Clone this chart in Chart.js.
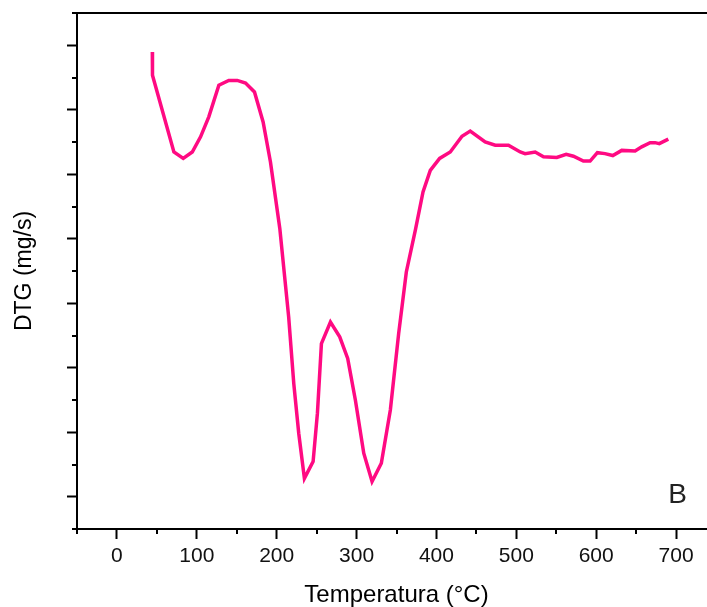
<!DOCTYPE html>
<html>
<head>
<meta charset="utf-8">
<script src="https://cdn.jsdelivr.net/npm/chart.js@4.4.1/dist/chart.umd.min.js"></script>
<style>
  html, body { margin: 0; padding: 0; background: #fff; overflow: hidden; width: 707px; height: 607px; }
  #wrap { width: 730px; height: 607px; }
</style>
</head>
<body>
<div id="wrap"><canvas id="c" width="730" height="607"></canvas></div>
<script>
// Temperature (°C)
const temps = [44.3, 44.5, 71.3, 83, 94.3, 104.7, 115, 127.6, 140, 150.6, 161, 172.2, 183, 192.2, 203.9,
  215, 221.4, 227.6, 234.7, 245.6, 251, 256, 267.3, 278.9, 288.9, 298.5, 309, 319.4, 331, 342.3,
  352.7, 362.3, 373.6, 383.2, 392.3, 404, 417.3, 432, 442.3, 461, 473.6, 490.2, 504.9, 511, 523.6,
  534, 550.7, 562.4, 571.5, 584, 592.4, 601.5, 611, 620.8, 632, 648.7, 657, 667.5, 673.7, 679, 690.3];
// DTG (arbitrary units, axis has no numeric labels)
const dtg = [14.79, 14.07, 11.69, 11.49, 11.69, 12.16, 12.78, 13.76, 13.91, 13.91, 13.83, 13.55, 12.62, 11.38, 9.32,
  6.58, 4.51, 2.97, 1.57, 2.09, 3.59, 5.75, 6.42, 5.96, 5.29, 4.0, 2.35, 1.47, 2.04, 3.69,
  6.06, 7.97, 9.27, 10.45, 11.12, 11.49, 11.69, 12.18, 12.34, 12.0, 11.9, 11.9, 11.69, 11.64, 11.69,
  11.54, 11.52, 11.62, 11.56, 11.41, 11.41, 11.67, 11.64, 11.58, 11.74, 11.72, 11.85, 11.98, 11.98, 11.95, 12.09];
const xTickLabels = ['0', '100', '200', '300', '400', '500', '600', '700'];
const panelLabel = 'B';

const points = temps.map((t, i) => ({ x: t, y: dtg[i] }));

const isMajorX = v => Math.abs(v % 100) < 1e-6;
const isMajorY = v => Math.abs(v % 2) === 1;

const minorTicks = {
  id: 'minorTicks',
  afterDraw(chart) {
    const { ctx, chartArea } = chart;
    const xs = chart.scales.x, ys = chart.scales.y;
    ctx.save();
    ctx.strokeStyle = '#000';
    ctx.lineWidth = 2;
    ctx.beginPath();
    xs.ticks.forEach(t => {
      if (!isMajorX(t.value)) {
        const px = Math.round(xs.getPixelForValue(t.value));
        ctx.moveTo(px, chartArea.bottom);
        ctx.lineTo(px, chartArea.bottom + 5);
      }
    });
    ys.ticks.forEach(t => {
      if (!isMajorY(t.value)) {
        const py = Math.round(ys.getPixelForValue(t.value));
        ctx.moveTo(chartArea.left - 5, py);
        ctx.lineTo(chartArea.left, py);
      }
    });
    ctx.stroke();
    // panel label
    ctx.fillStyle = '#222';
    ctx.font = '28px "Liberation Sans", Arial, sans-serif';
    ctx.textAlign = 'center';
    ctx.textBaseline = 'middle';
    ctx.fillText(panelLabel, xs.getPixelForValue(702), ys.getPixelForValue(1.05));
    ctx.restore();
  }
};

new Chart(document.getElementById('c'), {
  type: 'line',
  data: {
    datasets: [{
      data: points,
      borderColor: '#ff0a82',
      borderWidth: 3.5,
      pointRadius: 0,
      tension: 0,
      fill: false
    }]
  },
  options: {
    responsive: false,
    animation: false,
    devicePixelRatio: 1,
    layout: { padding: { left: 0, right: 14, top: 0, bottom: 0 } },
    plugins: { legend: { display: false }, tooltip: { enabled: false } },
    scales: {
      x: {
        type: 'linear',
        position: 'bottom',
        min: -50,
        max: 750,
        afterFit: s => { s.height = 78; },
        ticks: {
          stepSize: 50,
          autoSkip: false,
          maxRotation: 0,
          padding: 5,
          color: '#111',
          font: { family: '"Liberation Sans", Arial, sans-serif', size: 21 },
          callback: v => isMajorX(v) && v >= 0 && v <= 700 ? xTickLabels[v / 100] : ''
        },
        grid: {
          drawOnChartArea: false,
          drawTicks: true,
          tickLength: 10,
          tickWidth: 2,
          tickColor: c => isMajorX(c.tick.value) ? '#000' : 'rgba(0,0,0,0)'
        },
        border: { display: true, color: '#000', width: 2 },
        title: {
          display: true,
          text: 'Temperatura (°C)',
          color: '#000',
          font: { family: '"Liberation Sans", Arial, sans-serif', size: 24, lineHeight: 1 },
          padding: { top: 0, bottom: 0 }
        }
      },
      x2: {
        type: 'linear',
        position: 'top',
        min: -50,
        max: 750,
        afterFit: s => { s.height = 13; },
        ticks: { display: false },
        grid: { display: false, drawTicks: false },
        border: { display: true, color: '#000', width: 2 }
      },
      y: {
        type: 'linear',
        position: 'left',
        min: 0,
        max: 16,
        afterFit: s => { s.width = 77; },
        ticks: { stepSize: 1, autoSkip: false, callback: () => '' },
        grid: {
          drawOnChartArea: false,
          drawTicks: true,
          tickLength: 10,
          tickWidth: 2,
          tickColor: c => isMajorY(c.tick.value) ? '#000' : 'rgba(0,0,0,0)'
        },
        border: { display: true, color: '#000', width: 2 },
        title: {
          display: true,
          text: 'DTG (mg/s)',
          color: '#000',
          font: { family: '"Liberation Sans", Arial, sans-serif', size: 23, lineHeight: 1 },
          padding: { top: 13, bottom: 0 }
        }
      }
    }
  },
  plugins: [minorTicks]
});
</script>
</body>
</html>
